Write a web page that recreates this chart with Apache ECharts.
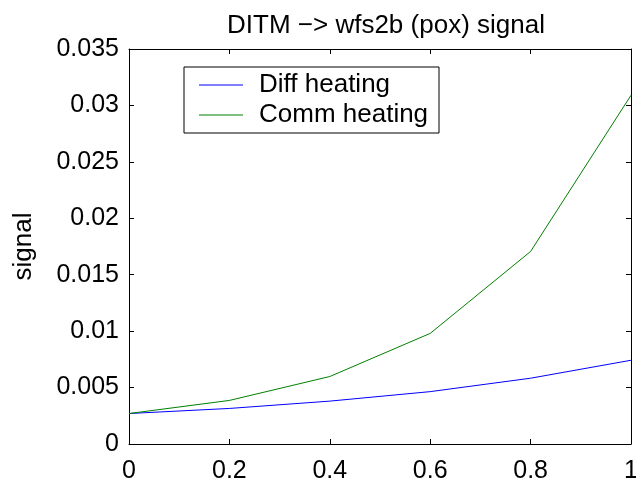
<!DOCTYPE html>
<html><head><meta charset="utf-8">
<script src="https://cdn.jsdelivr.net/npm/echarts@6/dist/echarts.min.js"></script>
<style>html,body{margin:0;padding:0;background:#fff}#c{width:636px;height:482px}</style>
</head><body><div id="c"></div>
<script>
const xValues = [0, 0.2, 0.4, 0.6, 0.8, 1];
const diffHeating = [0.0027, 0.00315, 0.0038, 0.00464, 0.00583, 0.00742];
const commHeating = [0.0027, 0.00386, 0.00598, 0.0098, 0.01706, 0.0309];
const seriesNames = ['Diff heating', 'Comm heating'];
const titleText = 'DITM \u2212> wfs2b (pox) signal';
const yLabel = 'signal';

const F = 'Liberation Sans, Arial, sans-serif';
const axisLine = () => ({show: true, onZero: false, lineStyle: {color: '#000', width: 1}});
const tick = () => ({show: true, inside: true, length: 5, lineStyle: {color: '#000', width: 1}});
const chart = echarts.init(document.getElementById('c'), null, {renderer: 'canvas'});
chart.setOption({
  animation: false,
  backgroundColor: '#fff',
  title: {text: titleText, left: 381, top: 8, textAlign: 'center',
    textStyle: {fontFamily: F, fontSize: 26, fontWeight: 'normal', color: '#000'}},
  grid: {left: 129, right: 5, top: 49, bottom: 38, containLabel: false, outerBoundsMode: 'none'},
  legend: {
    orient: 'vertical', left: 184, top: 67, data: seriesNames,
    icon: 'rect', itemWidth: 44, itemHeight: 1, itemGap: 0,
    padding: [3, 4, 3, 15],
    borderColor: '#000', borderWidth: 1, backgroundColor: '#fff',
    textStyle: {fontFamily: F, fontSize: 26, color: '#000', lineHeight: 30, width: 176, padding: [0, 0, 0, 11]}
  },
  xAxis: [
    {type: 'value', min: 0, max: 1, interval: 0.2, position: 'bottom', gridIndex: 0,
      axisLine: axisLine(), axisTick: tick(), splitLine: {show: false},
      axisLabel: {fontFamily: F, fontSize: 25, color: '#000', margin: 15}},
    {type: 'value', min: 0, max: 1, interval: 0.2, position: 'top', gridIndex: 0,
      axisLine: axisLine(), axisTick: tick(), splitLine: {show: false}, axisLabel: {show: false}}
  ],
  yAxis: [
    {type: 'value', min: 0, max: 0.035, interval: 0.005, position: 'left', gridIndex: 0,
      name: yLabel, nameLocation: 'middle', nameGap: 92,
      nameTextStyle: {fontFamily: F, fontSize: 26, color: '#000'},
      axisLine: axisLine(), axisTick: tick(), splitLine: {show: false},
      axisLabel: {fontFamily: F, fontSize: 25, color: '#000', margin: 10,
        formatter: v => String(+v.toFixed(3))}},
    {type: 'value', min: 0, max: 0.035, interval: 0.005, position: 'right', gridIndex: 0,
      axisLine: axisLine(), axisTick: tick(), splitLine: {show: false}, axisLabel: {show: false}}
  ],
  series: [
    {name: seriesNames[0], type: 'line', data: xValues.map((x, i) => [x, diffHeating[i]]),
      showSymbol: false, lineStyle: {color: '#0000ff', width: 1}, itemStyle: {color: '#0000ff'}},
    {name: seriesNames[1], type: 'line', data: xValues.map((x, i) => [x, commHeating[i]]),
      showSymbol: false, lineStyle: {color: '#008000', width: 1}, itemStyle: {color: '#008000'}}
  ]
});
</script></body></html>
